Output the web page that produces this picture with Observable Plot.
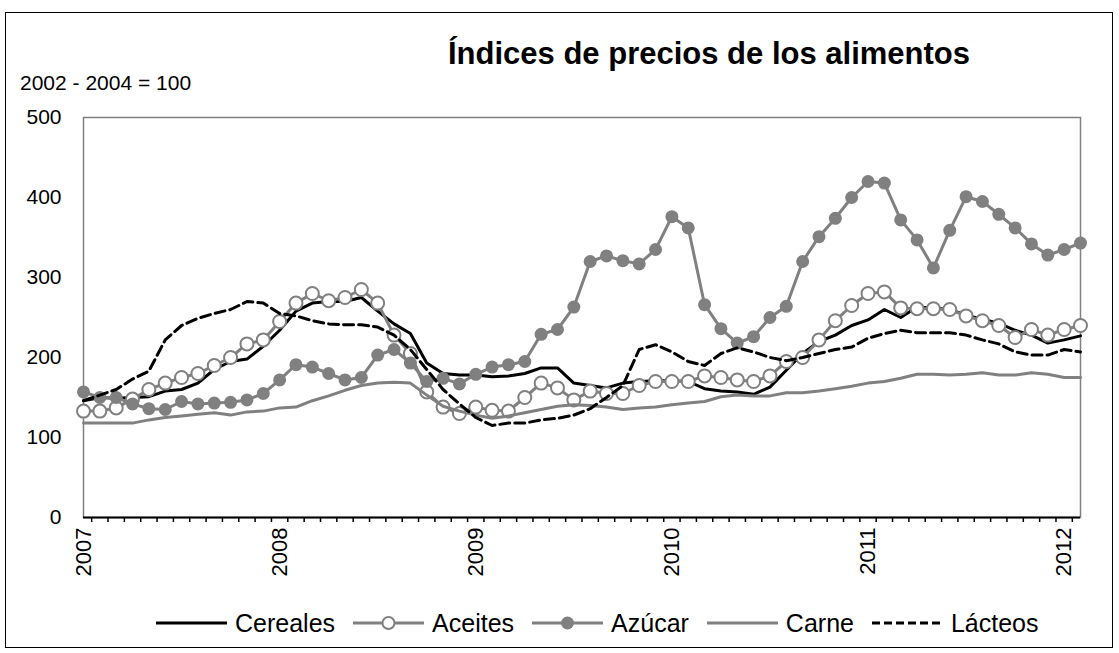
<!DOCTYPE html>
<html>
<head>
<meta charset="utf-8">
<script src="https://cdn.jsdelivr.net/npm/d3@7"></script>
<script src="https://cdn.jsdelivr.net/npm/@observablehq/plot@0.6"></script>
<style>
  html, body { margin: 0; padding: 0; background: #fff; }
  body { font-family: "Liberation Sans", Arial, sans-serif; }
  #wrap { position: relative; width: 1119px; height: 653px; overflow: hidden; }
  #wrap svg.plotsvg { position: absolute; left: 0; top: 0; }
  #border { position: absolute; left: 5px; top: 12px; width: 1106px; height: 634px; border: 1.5px solid #000; pointer-events: none; }
  #title { position: absolute; left: 300px; width: 818px; top: 36px; text-align: center; font-weight: bold; font-size: 31px; line-height: 36px; color: #000; }
  #subtitle { position: absolute; left: 20px; top: 71px; font-size: 21px; line-height: 24px; color: #000; }
  #legend { position: absolute; left: 156px; top: 607px; display: flex; align-items: center; font-size: 25px; line-height: 32px; color: #000; white-space: nowrap; }
  .item { display: flex; align-items: center; margin-right: 18px; }
  .item svg { margin-right: 8px; }
</style>
</head>
<body>
<div id="wrap">
  <div id="title">Índices de precios de los alimentos</div>
  <div id="subtitle">2002 - 2004 = 100</div>
  <div id="legend"></div>
  <div id="border"></div>
</div>
<script>
// ---- data (monthly, Jan 2007 .. Feb 2012) ----
const yearLabels = ["2007", "2008", "2009", "2010", "2011", "2012"];
const yearIndex = [0, 12, 24, 36, 48, 60];
const yTicks = [0, 100, 200, 300, 400, 500];
const seriesNames = ["Cereales", "Aceites", "Azúcar", "Carne", "Lácteos"];

const cereales = [146, 150, 149, 150, 151, 158, 160, 168, 185, 195, 198, 214,
  234, 258, 268, 270, 270, 275, 258, 242, 230, 193, 180, 178,
  178, 176, 177, 180, 187, 187, 168, 165, 162, 168, 170, 171,
  171, 170, 161, 158, 157, 154, 163, 184, 205, 220, 228, 240,
  247, 260, 250, 263, 262, 260, 253, 248, 243, 234, 228, 218,
  222, 227];

const aceites = [133, 133, 137, 148, 160, 168, 175, 180, 190, 200, 217, 222,
  245, 268, 280, 271, 275, 285, 268, 228, 205, 157, 138, 130,
  138, 134, 133, 150, 168, 162, 147, 158, 155, 155, 165, 170,
  170, 170, 177, 175, 172, 170, 177, 195, 200, 222, 246, 265,
  280, 282, 262, 261, 261, 260, 252, 246, 240, 225, 235, 228,
  235, 240];

const azucar = [157, 150, 150, 142, 136, 135, 145, 142, 143, 144, 147, 155,
  172, 191, 188, 180, 172, 175, 203, 210, 193, 170, 174, 167,
  179, 188, 191, 195, 229, 235, 263, 320, 327, 321, 317, 335,
  376, 362, 266, 236, 218, 226, 250, 264, 320, 351, 374, 400,
  420, 418, 372, 347, 312, 359, 401, 395, 379, 362, 342, 328,
  335, 343];

const carne = [118, 118, 118, 118, 122, 125, 127, 129, 131, 128, 132, 133,
  137, 138, 146, 152, 159, 165, 168, 169, 168, 153, 139, 133,
  128, 124, 127, 131, 135, 139, 141, 140, 138, 135, 137, 138,
  141, 143, 145, 151, 153, 152, 152, 156, 156, 158, 161, 164,
  168, 170, 174, 179, 179, 178, 179, 181, 178, 178, 181, 179,
  175, 175];

const lacteos = [146, 153, 160, 173, 183, 222, 240, 249, 255, 260, 270, 268,
  255, 252, 246, 242, 241, 241, 238, 228, 210, 185, 160, 142,
  125, 115, 118, 118, 122, 124, 128, 136, 150, 165, 210, 216,
  207, 195, 190, 205, 212, 207, 200, 196, 200, 205, 210, 213,
  224, 230, 234, 231, 231, 231, 228, 222, 217, 207, 203, 203,
  210, 207];

// ---- build tidy rows ----
const allValues = [cereales, aceites, azucar, carne, lacteos];
const rows = [];
seriesNames.forEach((name, s) => {
  allValues[s].forEach((v, i) => rows.push({serie: name, i, v}));
});
const bySerie = name => rows.filter(d => d.serie === name);
const monthTicks = d3.range(cereales.length - 1).map(i => i + 0.5);

const GRAY = "#808080";

const chart = Plot.plot({
  width: 1119,
  height: 653,
  marginLeft: 83,
  marginRight: 39,
  marginTop: 117,
  marginBottom: 136,
  style: {background: "transparent", fontFamily: "Liberation Sans, Arial, sans-serif", color: "#000"},
  x: {type: "linear", domain: [0, cereales.length - 1]},
  y: {domain: [0, 500]},
  marks: [
    Plot.frame({stroke: GRAY, strokeWidth: 1.5}),
    Plot.axisY({ticks: yTicks, tickSize: 0, tickPadding: 22, fontSize: 21, label: null}),
    Plot.axisX({ticks: monthTicks, tickSize: 5, tickFormat: () => "", label: null, strokeWidth: 1.5}),
    Plot.axisX({ticks: yearIndex, tickSize: 0, tickPadding: 10, tickRotate: -90, fontSize: 22, label: null,
      tickFormat: d => yearLabels[yearIndex.indexOf(d)]}),
    Plot.ruleY([0], {stroke: "#000", strokeWidth: 2}),
    Plot.line(bySerie("Cereales"), {x: "i", y: "v", stroke: "#000", strokeWidth: 3}),
    Plot.line(bySerie("Aceites"), {x: "i", y: "v", stroke: GRAY, strokeWidth: 3}),
    Plot.dot(bySerie("Aceites"), {x: "i", y: "v", r: 6.5, fill: "#fff", stroke: GRAY, strokeWidth: 2}),
    Plot.line(bySerie("Azúcar"), {x: "i", y: "v", stroke: GRAY, strokeWidth: 3}),
    Plot.dot(bySerie("Azúcar"), {x: "i", y: "v", r: 6.5, fill: GRAY, stroke: "none"}),
    Plot.line(bySerie("Carne"), {x: "i", y: "v", stroke: GRAY, strokeWidth: 3}),
    Plot.line(bySerie("Lácteos"), {x: "i", y: "v", stroke: "#000", strokeWidth: 3, strokeDasharray: "10,5"})
  ]
});
chart.classList.add("plotsvg");
document.getElementById("wrap").insertBefore(chart, document.getElementById("border"));

// ---- legend ----
const legendStyles = {
  "Cereales": {stroke: "#000", dash: null, marker: null},
  "Aceites": {stroke: GRAY, dash: null, marker: "open"},
  "Azúcar": {stroke: GRAY, dash: null, marker: "filled"},
  "Carne": {stroke: GRAY, dash: null, marker: null},
  "Lácteos": {stroke: "#000", dash: "8,4", marker: null}
};
const legend = document.getElementById("legend");
seriesNames.forEach(name => {
  const st = legendStyles[name];
  const item = document.createElement("div");
  item.className = "item";
  let svg = `<svg width="71" height="20" viewBox="0 0 71 20"><line x1="0" y1="10" x2="71" y2="10" stroke="${st.stroke}" stroke-width="3"${st.dash ? ` stroke-dasharray="${st.dash}"` : ""}/>`;
  if (st.marker === "open") svg += `<circle cx="35.5" cy="10" r="6" fill="#fff" stroke="${GRAY}" stroke-width="2"/>`;
  if (st.marker === "filled") svg += `<circle cx="35.5" cy="10" r="6.5" fill="${GRAY}"/>`;
  svg += `</svg>`;
  item.innerHTML = svg + `<span>${name}</span>`;
  legend.appendChild(item);
});
</script>
</body>
</html>
